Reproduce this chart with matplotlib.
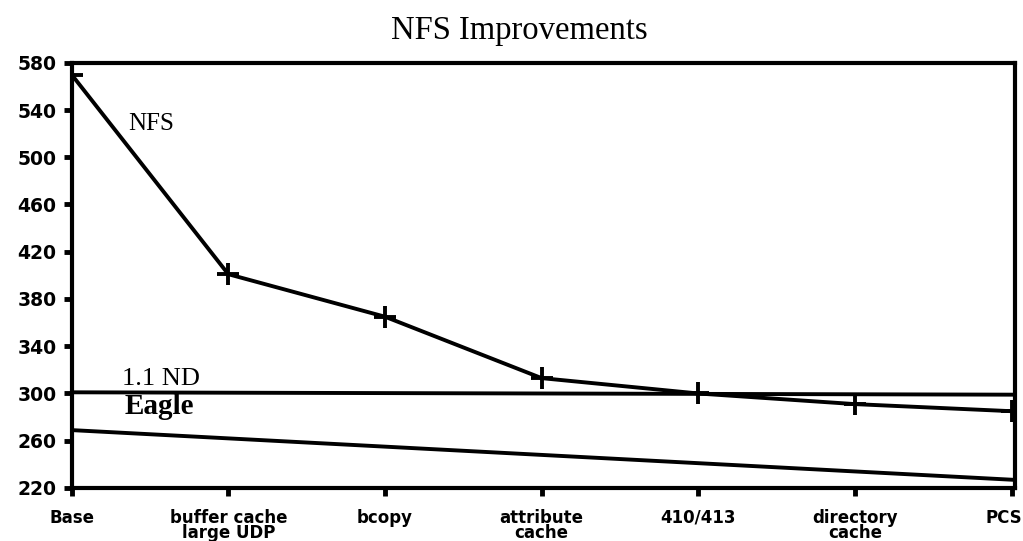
import matplotlib
matplotlib.use("Agg")
import matplotlib.pyplot as plt
from matplotlib.transforms import ScaledTranslation

categories = ["Base", "buffer cache\nlarge UDP", "bcopy", "attribute\ncache",
              "410/413", "directory\ncache", "PCS"]
nfs = [570, 401, 365, 313, 300, 291, 285]
nd_x = [0, 6]
nd = [301, 299]
eagle_x = [0, 6]
eagle = [269, 227]
yticks = [220, 260, 300, 340, 380, 420, 460, 500, 540, 580]

fig = plt.figure(figsize=(10.23, 5.41), dpi=100)
ax = fig.add_axes([0.070, 0.098, 0.922, 0.786])

x = list(range(len(categories)))
ax.plot(x, nfs, color="black", lw=2.8, marker="+", markersize=16, markeredgewidth=2.8)
ax.plot(nd_x, nd, color="black", lw=2.8)
ax.plot(eagle_x, eagle, color="black", lw=2.8)

ax.set_xlim(0, 6.02)
ax.set_ylim(220, 580)
ax.set_xticks(x)
ax.set_xticklabels(categories, fontsize=12, fontweight="bold", family="DejaVu Sans",
                   linespacing=0.8)
ax.set_yticks(yticks)
ax.set_yticklabels([str(v) for v in yticks], fontsize=13.5, fontweight="bold",
                   family="DejaVu Sans")
ax.tick_params(axis="both", direction="out", length=6, width=3.5, color="black")
ax.tick_params(axis="x", pad=9)
ax.tick_params(axis="y", pad=5)
for s in ax.spines.values():
    s.set_linewidth(3)
    s.set_color("black")

# keep the last label inside the figure
last = ax.get_xticklabels()[-1]
last.set_transform(last.get_transform() + ScaledTranslation(-0.08, 0, fig.dpi_scale_trans))

ax.text(0.36, 523, "NFS", fontsize=18, family="Liberation Serif")
ax.text(0.32, 307, "1.1 ND", fontsize=19, family="Liberation Serif")
ax.text(0.34, 283, "Eagle", fontsize=21, family="Liberation Serif", fontweight="bold")

fig.text(0.508, 0.943, "NFS Improvements", ha="center", va="center",
         fontsize=23.5, family="Liberation Serif")

fig.savefig("out.png", dpi=100)
